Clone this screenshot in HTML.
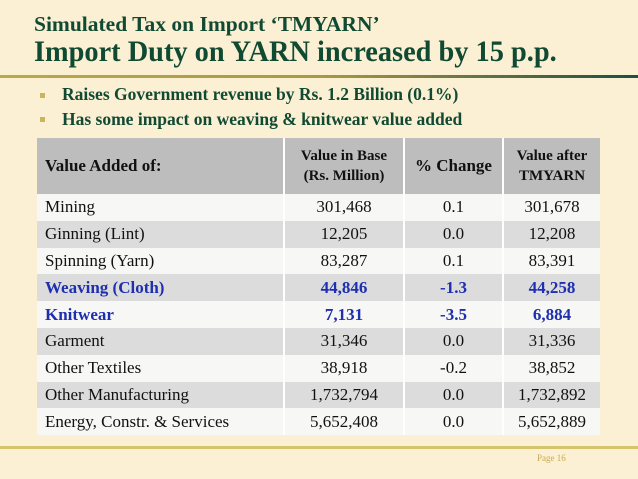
<!DOCTYPE html>
<html><head><meta charset="utf-8"><style>
*{margin:0;padding:0;box-sizing:border-box}
body{width:638px;height:479px;overflow:hidden;background:#fbf0d4;font-family:"Liberation Serif",serif;position:relative}
.t1{position:absolute;left:34px;top:12px;font-size:21.5px;font-weight:bold;color:#114a32;white-space:nowrap}
.t2{position:absolute;left:34px;top:35px;font-size:30px;font-weight:bold;color:#114a32;white-space:nowrap;transform:scaleX(0.945);transform-origin:0 0}
.rule{position:absolute;left:0;top:75px;width:638px;height:3px;background:linear-gradient(90deg,#b9a94a,#a89a44 50%,#1d4e46)}
.b{position:absolute;left:62px;font-size:17.5px;font-weight:bold;color:#114a32;white-space:nowrap}
.sq{position:absolute;left:40px;width:5px;height:5px;background:#c9b461}
table{position:absolute;left:37px;top:138px;width:563px;border-collapse:collapse;font-size:17px;color:#111}
td,th{border-left:2px solid #fff;padding:0 8px}
td:first-child,th:first-child{border-left:none}
th{background:#bdbdbd;height:56px;font-weight:bold}
th.l{text-align:left;font-size:17px}
th.s{font-size:15px;line-height:20px}
td{height:26.8px;text-align:center}
td:first-child{text-align:left}
tr:nth-child(even) td{background:#f7f7f5}
tr:nth-child(odd) td{background:#dcdcdc}
tr.hl td{color:#1e2fb0;font-weight:bold}
.foot{position:absolute;left:0;top:446px;width:638px;height:3px;background:#d6c46c}
.pg{position:absolute;left:537px;top:453px;font-size:9px;color:#c9a94a}
</style></head><body>
<div class="t1">Simulated Tax on Import ‘TMYARN’</div>
<div class="t2">Import Duty on YARN increased by 15 p.p.</div>
<div class="rule"></div>
<div class="sq" style="top:93px"></div>
<div class="b" style="top:84px">Raises Government revenue by Rs. 1.2 Billion (0.1%)</div>
<div class="sq" style="top:117px"></div>
<div class="b" style="top:109px">Has some impact on weaving &amp; knitwear value added</div>
<table>
<colgroup><col style="width:247px"><col style="width:120px"><col style="width:99px"><col style="width:97px"></colgroup>
<tr><th class="l">Value Added of:</th><th class="s">Value in Base<br>(Rs. Million)</th><th style="font-size:17px">% Change</th><th class="s">Value after<br>TMYARN</th></tr>
<tr><td>Mining</td><td>301,468</td><td>0.1</td><td>301,678</td></tr>
<tr><td>Ginning (Lint)</td><td>12,205</td><td>0.0</td><td>12,208</td></tr>
<tr><td>Spinning (Yarn)</td><td>83,287</td><td>0.1</td><td>83,391</td></tr>
<tr class="hl"><td>Weaving (Cloth)</td><td>44,846</td><td>-1.3</td><td>44,258</td></tr>
<tr class="hl"><td>Knitwear</td><td>7,131</td><td>-3.5</td><td>6,884</td></tr>
<tr><td>Garment</td><td>31,346</td><td>0.0</td><td>31,336</td></tr>
<tr><td>Other Textiles</td><td>38,918</td><td>-0.2</td><td>38,852</td></tr>
<tr><td>Other Manufacturing</td><td>1,732,794</td><td>0.0</td><td>1,732,892</td></tr>
<tr><td>Energy, Constr. &amp; Services</td><td>5,652,408</td><td>0.0</td><td>5,652,889</td></tr>
</table>
<div class="foot"></div>
<div class="pg">Page 16</div>
</body></html>
